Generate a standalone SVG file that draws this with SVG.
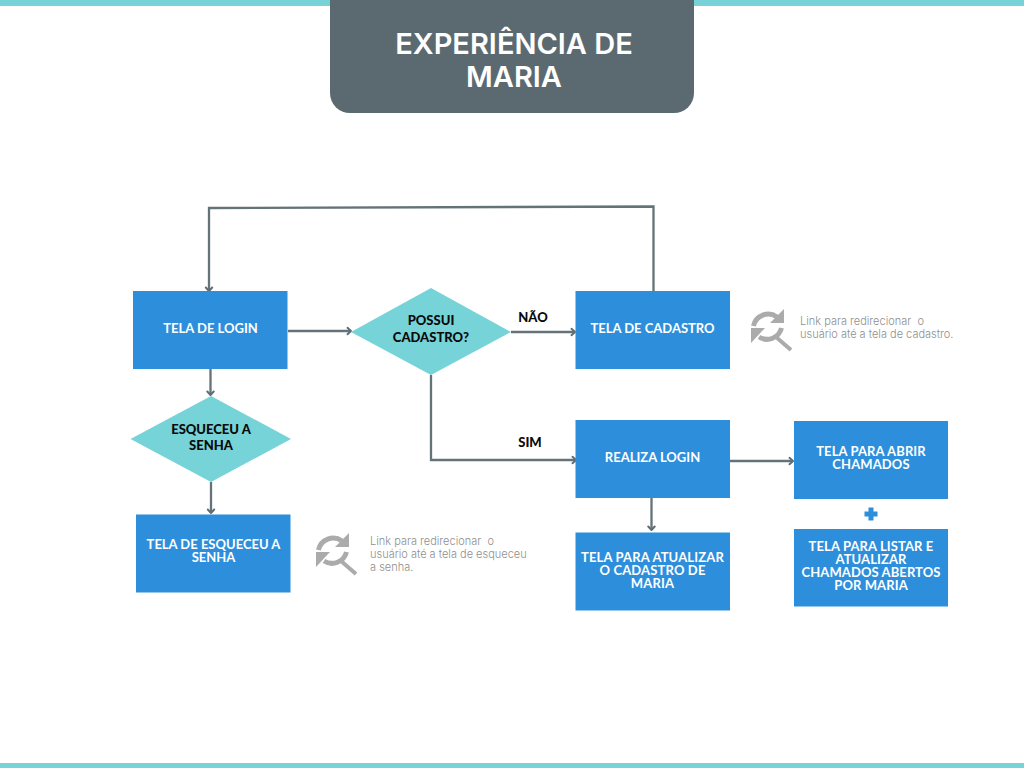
<svg xmlns="http://www.w3.org/2000/svg" width="1024" height="768" viewBox="0 0 1024 768">
<style>
.box{fill:#2d8fdc}
.dia{fill:#76d3d8}
.w{font:700 13px Lato,"Liberation Sans",sans-serif;fill:#fff;text-anchor:middle}
.k{font:900 13px Lato,"Liberation Sans",sans-serif;fill:#0a0a0a;text-anchor:middle}
.n{font:300 11px Inter,"Liberation Sans",sans-serif;fill:#8f8f8f;white-space:pre}
.t{font:600 29px Inter,"Liberation Sans",sans-serif;fill:#fff;text-anchor:middle}
.c{fill:none;stroke:#647379;stroke-width:2.300}
.ah{fill:none;stroke:#5f6e76;stroke-width:2;stroke-linecap:round;stroke-linejoin:round}
.ic{fill:none;stroke:#ababab;stroke-width:5}
.ih{fill:none;stroke:#ababab;stroke-width:4}
.icf{fill:#ababab}
</style>
<defs>
<marker id="a" markerWidth="10" markerHeight="10" refX="7" refY="5" orient="auto" markerUnits="userSpaceOnUse"><path class="ah" d="M3.500 1.800L7 5L3.500 8.200"/></marker>
<g id="search">
<path class="ic" d="M-14.500 -2A15 15 0 0 1 9 -11"/>
<path class="icf" d="M16 -19V-5H2Z"/>
<path class="ic" d="M13.500 0A15 15 0 0 1 -9 9"/>
<path class="icf" d="M-17 0H-3L-17 15Z"/>
<path class="ih" d="M8 9L23 22"/>
</g>
</defs>
<rect width="1024" height="768" fill="#fff"/>
<rect id="top-bar" width="1024" height="6" fill="#76d3d8"/>
<rect id="bottom-bar" y="763" width="1024" height="5" fill="#76d3d8"/>
<g id="title"><path d="M330 0H694V93A20 20 0 0 1 674 113H350A20 20 0 0 1 330 93Z" fill="#5b6a71"/>
<text class="t" x="514" y="54">EXPERIÊNCIA DE<tspan x="514" dy="33">MARIA</tspan></text></g>
<g id="connectors">
<path class="c" d="M653.500 291V206.500L209 208V291" marker-end="url(#a)"/>
<path class="c" d="M288 331H351" marker-end="url(#a)"/>
<path class="c" d="M511 332H575" marker-end="url(#a)"/>
<path class="c" d="M431 375V460H576" marker-end="url(#a)"/>
<path class="c" d="M210.500 369V395" marker-end="url(#a)"/>
<path class="c" d="M211 482V513" marker-end="url(#a)"/>
<path class="c" d="M730 461H793" marker-end="url(#a)"/>
<path class="c" d="M651.500 498V530" marker-end="url(#a)"/>
</g>
<g id="login"><rect class="box" x="133" y="291" width="154.500" height="78"/><text class="w" x="210.500" y="333">TELA DE LOGIN</text></g>
<g id="possui"><path class="dia" d="M431 288L511 332L431 375L351 332Z"/><text class="k" x="431" y="325">POSSUI<tspan x="431" dy="17">CADASTRO?</tspan></text></g>
<g id="cadastro"><rect class="box" x="575.500" y="291" width="154.500" height="78"/><text class="w" x="652.500" y="333">TELA DE CADASTRO</text></g>
<g id="esqueceu-d"><path class="dia" d="M211 396L291 439L211 482L130.500 439Z"/><text class="k" x="211" y="434">ESQUECEU A<tspan x="211" dy="16">SENHA</tspan></text></g>
<g id="esqueceu"><rect class="box" x="136" y="514.500" width="154.500" height="78"/><text class="w" x="213.500" y="549">TELA DE ESQUECEU A<tspan x="213.500" dy="13">SENHA</tspan></text></g>
<g id="realiza"><rect class="box" x="575.500" y="420" width="154.500" height="78"/><text class="w" x="652.500" y="462">REALIZA LOGIN</text></g>
<g id="atualizar"><rect class="box" x="575.500" y="532.500" width="154.500" height="78"/><text class="w" x="652.500" y="562" style="letter-spacing:.15px">TELA PARA ATUALIZAR<tspan x="652.500" dy="13">O CADASTRO DE</tspan><tspan x="652.500" dy="13">MARIA</tspan></text></g>
<g id="abrir"><rect class="box" x="794" y="421" width="154" height="78"/><text class="w" x="871" y="456" style="letter-spacing:.1px">TELA PARA ABRIR<tspan x="871" dy="13">CHAMADOS</tspan></text></g>
<g id="plus"><path d="M868.500 507.500H873.500V511.500H877.500V516.500H873.500V520.500H868.500V516.500H864.500V511.500H868.500Z" fill="#2d8fdc"/></g>
<g id="listar"><rect class="box" x="794" y="529" width="154" height="77.500"/><text class="w" x="871" y="551" style="letter-spacing:.1px">TELA PARA LISTAR E<tspan x="871" dy="13">ATUALIZAR</tspan><tspan x="871" dy="13">CHAMADOS ABERTOS</tspan><tspan x="871" dy="13">POR MARIA</tspan></text></g>
<g id="nao-label"><text class="k" x="533" y="322">NÃO</text></g>
<g id="sim-label"><text class="k" x="530" y="447">SIM</text></g>
<g id="note1"><use href="#search" x="768" y="328"/><text class="n" x="800" y="325">Link para redirecionar  o<tspan x="800" dy="13">usuário até a tela de cadastro.</tspan></text></g>
<g id="note2"><use href="#search" x="333" y="552"/><text class="n" x="370" y="545">Link para redirecionar  o<tspan x="370" dy="13">usuário até a tela de esqueceu</tspan><tspan x="370" dy="13">a senha.</tspan></text></g>
</svg>
